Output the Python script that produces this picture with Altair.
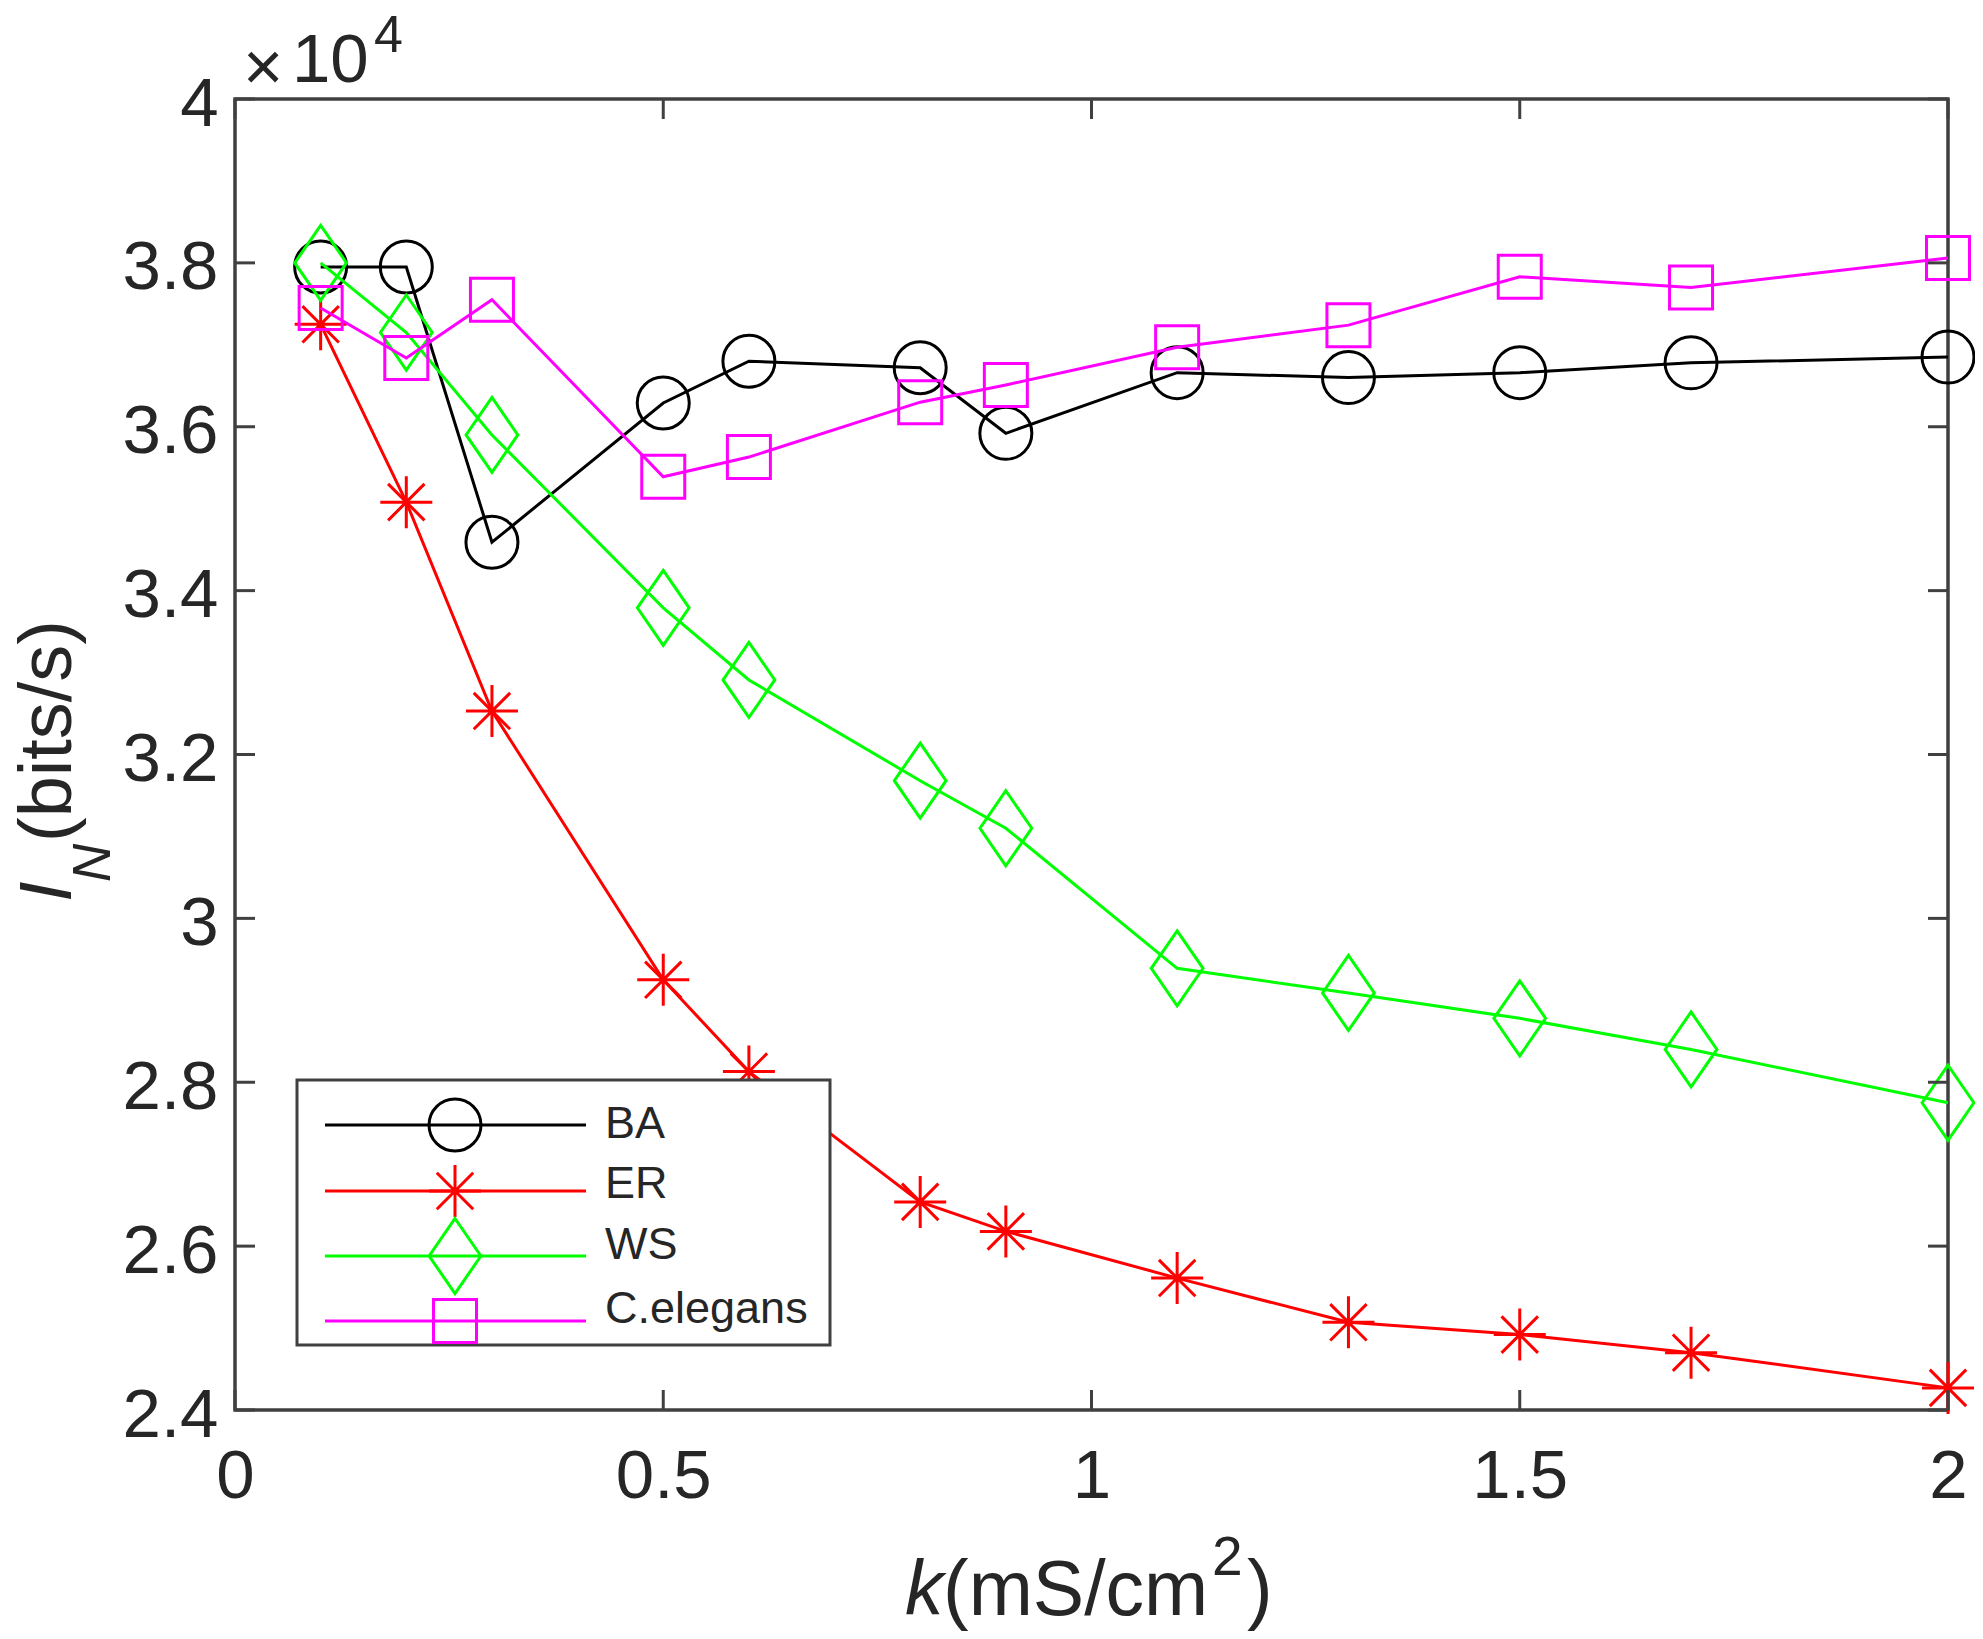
import altair as alt
import pandas as pd

# ---- data (values in units of 10^4 bits/s) ----
k_vals = [0.1, 0.2, 0.3, 0.5, 0.6, 0.8, 0.9, 1.1, 1.3, 1.5, 1.7, 2.0]
ba_vals = [3.795, 3.795, 3.459, 3.629, 3.680, 3.672, 3.592, 3.666, 3.660, 3.666, 3.678, 3.685]
er_vals = [3.725, 3.508, 3.253, 2.925, 2.813, 2.654, 2.618, 2.561, 2.507, 2.492, 2.470, 2.427]
ws_vals = [3.800, 3.715, 3.590, 3.379, 3.291, 3.168, 3.110, 2.939, 2.909, 2.878, 2.840, 2.775]
ce_vals = [3.745, 3.684, 3.755, 3.539, 3.563, 3.630, 3.651, 3.697, 3.724, 3.783, 3.770, 3.806]

series_names = ["BA", "ER", "WS", "C.elegans"]
series_values = [ba_vals, er_vals, ws_vals, ce_vals]
series_colors = ["#000000", "#ff0000", "#00ff00", "#ff00ff"]

x_ticks = [0, 0.5, 1, 1.5, 2]
y_ticks = [2.4, 2.6, 2.8, 3.0, 3.2, 3.4, 3.6, 3.8, 4.0]

# ---- style ----
W, H = 1713, 1311
FONT = "Liberation Sans"
AX = "#404040"
TXT = "#262626"
STAR = "M-1,0L1,0M0,-1L0,1M-0.7,-0.7L0.7,0.7M-0.7,0.7L0.7,-0.7"
DIAM = "M0,-1L0.69,0L0,1L-0.69,0Z"
series_shapes = ["circle", STAR, DIAM, "square"]
series_sizes = [2704, 2704, 5625, 1849]

xscale = alt.Scale(domain=[0, 2], nice=False, zero=False)
yscale = alt.Scale(domain=[2.4, 4.0], nice=False, zero=False)

x_axis = alt.Axis(values=x_ticks, format="~g", title=None, grid=False, domain=False,
                  ticks=False, tickSize=0, labelFont=FONT, labelFontSize=69,
                  labelColor=TXT, labelPadding=32, labelFlush=False, labelOverlap=False)
y_axis = alt.Axis(values=y_ticks, format="~g", title=None, grid=False, domain=False,
                  ticks=False, tickSize=0, labelFont=FONT, labelFontSize=69,
                  labelColor=TXT, labelPadding=17, labelOffset=5, labelFlush=False,
                  labelOverlap=False)


def X(field):
    return alt.X(field, scale=xscale, axis=x_axis)


def Y(field):
    return alt.Y(field, scale=yscale, axis=y_axis)


layers = []
for name, vals, col, shp, sz in zip(series_names, series_values, series_colors,
                                    series_shapes, series_sizes):
    df = pd.DataFrame({"k": k_vals, "v": vals, "series": name})
    base = alt.Chart(df)
    layers.append(base.mark_line(color=col, strokeWidth=3).encode(x=X("k:Q"), y=Y("v:Q")))
    layers.append(base.mark_point(shape=shp, size=sz, filled=False, stroke=col,
                                  strokeWidth=3, opacity=1).encode(x=X("k:Q"), y=Y("v:Q")))

# ---- inward ticks on all four sides ----
xt = pd.DataFrame({"k": x_ticks})
yt = pd.DataFrame({"v": y_ticks})
TL = 20
layers.append(alt.Chart(xt).mark_rule(color=AX, strokeWidth=3).encode(
    x=X("k:Q"), y=alt.value(H), y2=alt.value(H - TL)))
layers.append(alt.Chart(xt).mark_rule(color=AX, strokeWidth=3).encode(
    x=X("k:Q"), y=alt.value(0), y2=alt.value(TL)))
layers.append(alt.Chart(yt).mark_rule(color=AX, strokeWidth=3).encode(
    y=Y("v:Q"), x=alt.value(0), x2=alt.value(TL)))
layers.append(alt.Chart(yt).mark_rule(color=AX, strokeWidth=3).encode(
    y=Y("v:Q"), x=alt.value(W - TL), x2=alt.value(W)))


def txt(text, x, y, size, italic=False, angle=0, align="left"):
    kw = dict(text=text, font=FONT, fontSize=size, color=TXT, align=align,
              baseline="alphabetic")
    if italic:
        kw["fontStyle"] = "italic"
    if angle:
        kw["angle"] = angle
    return alt.Chart(alt.Data(values=[{}])).mark_text(**kw).encode(
        x=alt.value(x), y=alt.value(y))


# ---- exponent label ----
layers.append(txt("\u00d7", 8, -9, 69))
layers.append(txt("10", 57, -17, 69))
layers.append(txt("4", 139, -47, 52))

# ---- x title: k(mS/cm^2) ----
layers.append(txt("k", 670, 1516, 77, italic=True))
layers.append(txt("(mS/cm", 708, 1516, 77))
layers.append(txt("2", 977, 1476, 55))
layers.append(txt(")", 1012, 1516, 77))

# ---- y title: I_N(bits/s) ----
layers.append(txt("I", -164, 803, 74, italic=True, angle=270))
layers.append(txt("N", -125, 783, 53, italic=True, angle=270))
layers.append(txt("(bits/s)", -164, 743, 74, angle=270))

# ---- legend ----
one = alt.Data(values=[{}])
layers.append(alt.Chart(one).mark_rect(fill="white", stroke=AX, strokeWidth=3).encode(
    x=alt.value(62), x2=alt.value(595), y=alt.value(981), y2=alt.value(1246)))
row_y = [1026, 1092, 1157, 1222]
row_base = [1039, 1099, 1160, 1224]
for name, col, shp, sz, ly, lb in zip(series_names, series_colors, series_shapes,
                                       series_sizes, row_y, row_base):
    layers.append(alt.Chart(one).mark_rule(color=col, strokeWidth=3).encode(
        x=alt.value(90), x2=alt.value(351), y=alt.value(ly)))
    layers.append(alt.Chart(one).mark_point(shape=shp, size=sz, filled=False, stroke=col,
                                            strokeWidth=3, opacity=1).encode(
        x=alt.value(220), y=alt.value(ly)))
    layers.append(txt(name, 370, lb, 45))

chart = alt.layer(*layers).properties(
    width=W, height=H,
    background="white",
    autosize=alt.AutoSizeParams(type="none"),
    padding={"left": 227, "top": 91, "right": 27, "bottom": 221},
).configure_view(stroke=AX, strokeWidth=3.5)

chart.save("out.html", embed_options={"renderer": "svg", "actions": False})
